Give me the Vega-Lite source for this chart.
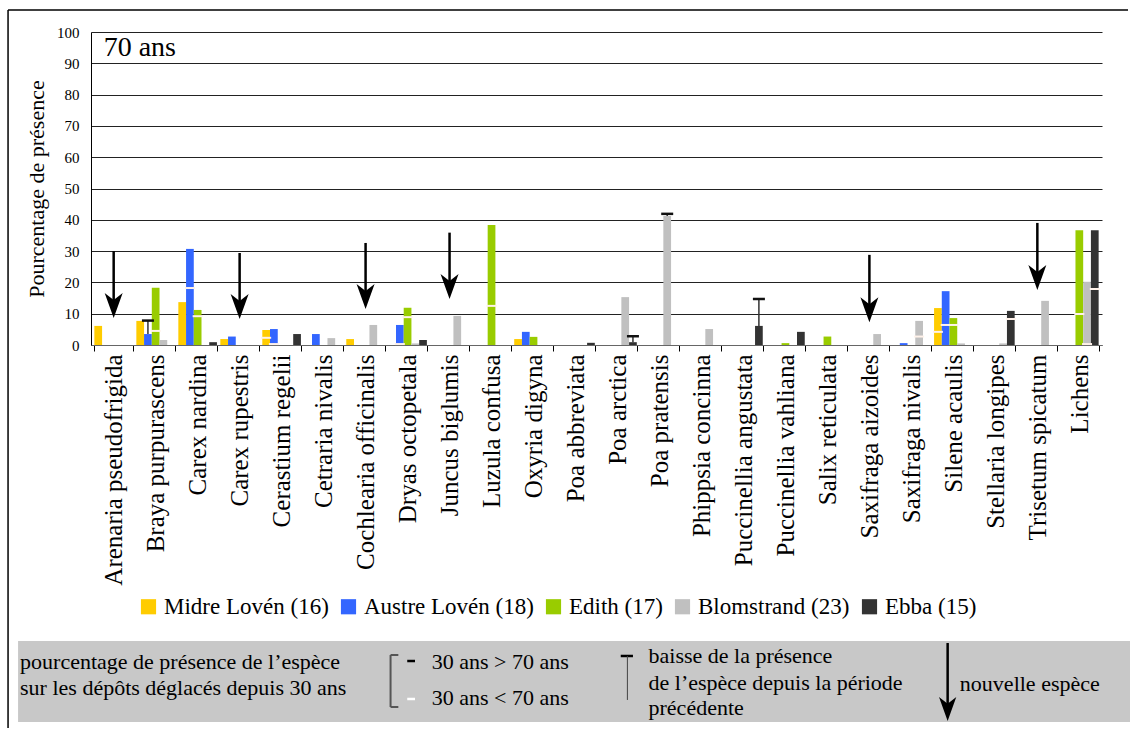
{
  "$schema": "https://vega.github.io/schema/vega-lite/v6.json",
  "padding": {"left": 7, "top": 9, "right": 0, "bottom": 0},
  "background": "white",
  "columns": 1,
  "bounds": "flush",
  "spacing": 296,
  "config": {
    "font": "Liberation Serif",
    "view": {"stroke": null},
    "axisY": {
      "grid": true,
      "gridColor": "#222",
      "gridWidth": 1,
      "ticks": false,
      "domain": true,
      "domainColor": "#000",
      "labelFont": "Liberation Serif",
      "labelFontSize": 15,
      "labelColor": "#000",
      "labelPadding": 12,
      "labelOverlap": false,
      "titleFont": "Liberation Serif",
      "titleFontSize": 22,
      "titleFontWeight": "normal",
      "titleColor": "#000",
      "titlePadding": 8
    }
  },
  "datasets": {
    "bars": [
      {"species": "Arenaria pseudofrigida", "site": "Midre Lovén (16)", "value": 6.1},
      {"species": "Braya purpurascens", "site": "Midre Lovén (16)", "value": 7.7},
      {"species": "Braya purpurascens", "site": "Austre Lovén (18)", "value": 3.5},
      {"species": "Braya purpurascens", "site": "Edith (17)", "value": 18.3},
      {"species": "Braya purpurascens", "site": "Blomstrand (23)", "value": 1.6},
      {"species": "Carex nardina", "site": "Midre Lovén (16)", "value": 13.7},
      {"species": "Carex nardina", "site": "Austre Lovén (18)", "value": 30.7},
      {"species": "Carex nardina", "site": "Edith (17)", "value": 11.2},
      {"species": "Carex nardina", "site": "Ebba (15)", "value": 0.9},
      {"species": "Carex rupestris", "site": "Midre Lovén (16)", "value": 1.9},
      {"species": "Carex rupestris", "site": "Austre Lovén (18)", "value": 2.7},
      {"species": "Cerastium regelii", "site": "Midre Lovén (16)", "value": 4.8},
      {"species": "Cerastium regelii", "site": "Austre Lovén (18)", "value": 5.1},
      {"species": "Cerastium regelii", "site": "Ebba (15)", "value": 3.5},
      {"species": "Cetraria nivalis", "site": "Austre Lovén (18)", "value": 3.5},
      {"species": "Cetraria nivalis", "site": "Blomstrand (23)", "value": 2.2},
      {"species": "Cochlearia officinalis", "site": "Midre Lovén (16)", "value": 1.9},
      {"species": "Cochlearia officinalis", "site": "Blomstrand (23)", "value": 6.4},
      {"species": "Dryas octopetala", "site": "Austre Lovén (18)", "value": 6.4},
      {"species": "Dryas octopetala", "site": "Edith (17)", "value": 11.9},
      {"species": "Dryas octopetala", "site": "Blomstrand (23)", "value": 0.5},
      {"species": "Dryas octopetala", "site": "Ebba (15)", "value": 1.6},
      {"species": "Juncus biglumis", "site": "Blomstrand (23)", "value": 9.3},
      {"species": "Luzula confusa", "site": "Edith (17)", "value": 38.3},
      {"species": "Oxyria digyna", "site": "Midre Lovén (16)", "value": 1.9},
      {"species": "Oxyria digyna", "site": "Austre Lovén (18)", "value": 4.2},
      {"species": "Oxyria digyna", "site": "Edith (17)", "value": 2.6},
      {"species": "Poa abbreviata", "site": "Ebba (15)", "value": 0.7},
      {"species": "Poa arctica", "site": "Blomstrand (23)", "value": 15.3},
      {"species": "Poa arctica", "site": "Ebba (15)", "value": 0.9},
      {"species": "Poa pratensis", "site": "Blomstrand (23)", "value": 41.2},
      {"species": "Phippsia concinna", "site": "Blomstrand (23)", "value": 5.1},
      {"species": "Puccinellia angustata", "site": "Ebba (15)", "value": 6.1},
      {"species": "Puccinellia vahliana", "site": "Edith (17)", "value": 0.6},
      {"species": "Puccinellia vahliana", "site": "Ebba (15)", "value": 4.2},
      {"species": "Salix reticulata", "site": "Edith (17)", "value": 2.7},
      {"species": "Saxifraga aizoides", "site": "Blomstrand (23)", "value": 3.5},
      {"species": "Saxifraga nivalis", "site": "Austre Lovén (18)", "value": 0.6},
      {"species": "Saxifraga nivalis", "site": "Blomstrand (23)", "value": 7.7},
      {"species": "Silene acaulis", "site": "Midre Lovén (16)", "value": 11.8},
      {"species": "Silene acaulis", "site": "Austre Lovén (18)", "value": 17.2},
      {"species": "Silene acaulis", "site": "Edith (17)", "value": 8.6},
      {"species": "Silene acaulis", "site": "Blomstrand (23)", "value": 0.5},
      {"species": "Stellaria longipes", "site": "Blomstrand (23)", "value": 0.5},
      {"species": "Stellaria longipes", "site": "Ebba (15)", "value": 10.9},
      {"species": "Trisetum spicatum", "site": "Blomstrand (23)", "value": 14.1},
      {"species": "Lichens", "site": "Edith (17)", "value": 36.7},
      {"species": "Lichens", "site": "Blomstrand (23)", "value": 20.2},
      {"species": "Lichens", "site": "Ebba (15)", "value": 36.7}
    ],
    "marks30": [
      {"species": "Braya purpurascens", "site": "Edith (17)", "value": 4.5},
      {"species": "Carex nardina", "site": "Austre Lovén (18)", "value": 18.2},
      {"species": "Carex nardina", "site": "Edith (17)", "value": 9.2},
      {"species": "Cerastium regelii", "site": "Midre Lovén (16)", "value": 2.3},
      {"species": "Cerastium regelii", "site": "Austre Lovén (18)", "value": 0.3},
      {"species": "Dryas octopetala", "site": "Austre Lovén (18)", "value": 0.3},
      {"species": "Dryas octopetala", "site": "Edith (17)", "value": 8.9},
      {"species": "Luzula confusa", "site": "Edith (17)", "value": 12.5},
      {"species": "Saxifraga nivalis", "site": "Blomstrand (23)", "value": 2.7},
      {"species": "Silene acaulis", "site": "Midre Lovén (16)", "value": 4.2},
      {"species": "Silene acaulis", "site": "Austre Lovén (18)", "value": 6.4},
      {"species": "Silene acaulis", "site": "Edith (17)", "value": 6.4},
      {"species": "Stellaria longipes", "site": "Ebba (15)", "value": 8.3},
      {"species": "Lichens", "site": "Edith (17)", "value": 9.9},
      {"species": "Lichens", "site": "Blomstrand (23)", "value": 0.3},
      {"species": "Lichens", "site": "Ebba (15)", "value": 17.9}
    ],
    "baisse": [
      {"species": "Braya purpurascens", "site": "Austre Lovén (18)", "value": 3.5, "prev": 7.8},
      {"species": "Poa arctica", "site": "Ebba (15)", "value": 0.9, "prev": 2.8},
      {"species": "Poa pratensis", "site": "Blomstrand (23)", "value": 41.2, "prev": 41.9},
      {"species": "Puccinellia angustata", "site": "Ebba (15)", "value": 6.1, "prev": 14.7}
    ],
    "arrows": [
      {"species": "Arenaria pseudofrigida", "top": 30, "stemEnd": 11.6, "tip": 8.6},
      {"species": "Carex rupestris", "top": 29.4, "stemEnd": 11.3, "tip": 8.3},
      {"species": "Cochlearia officinalis", "top": 32.6, "stemEnd": 14.5, "tip": 11.5},
      {"species": "Juncus biglumis", "top": 35.9, "stemEnd": 17.7, "tip": 14.7},
      {"species": "Saxifraga aizoides", "top": 28.8, "stemEnd": 10.3, "tip": 7.3},
      {"species": "Trisetum spicatum", "top": 39, "stemEnd": 20.6, "tip": 17.6}
    ],
    "heading": [{"label": "70 ans"}],
    "box": [{"x": 0, "x2": 100, "y": 0, "y2": 100}],
    "frame": [
      {"x": -0.9, "x2": 99.82, "y": -779, "y2": -779},
      {"x": -0.9, "x2": -0.9, "y": -779, "y2": 107.4}
    ],
    "notes": [
      {"x": 0.18, "y": 34.6, "text": "pourcentage de présence de l’espèce"},
      {"x": 0.18, "y": 66.7, "text": "sur les dépôts déglacés depuis 30 ans"},
      {"x": 37.2, "y": 34.6, "text": "30 ans > 70 ans"},
      {"x": 37.2, "y": 79.0, "text": "30 ans < 70 ans"},
      {"x": 56.7, "y": 27.2, "text": "baisse de la présence"},
      {"x": 56.7, "y": 60.5, "text": "de l’espèce depuis la période"},
      {"x": 56.7, "y": 91.4, "text": "précédente"},
      {"x": 84.7, "y": 61.7, "text": "nouvelle espèce"}
    ],
    "segs": [
      {"item": "bracket", "x": 33.5, "x2": 33.5, "y": 17.3, "y2": 81.5},
      {"item": "bracket", "x": 33.5, "x2": 34.2, "y": 17.3, "y2": 17.3},
      {"item": "bracket", "x": 33.5, "x2": 34.2, "y": 81.5, "y2": 81.5},
      {"item": "blackdash", "x": 35.0, "x2": 35.7, "y": 24.7, "y2": 24.7},
      {"item": "whitedash", "x": 35.0, "x2": 35.7, "y": 71.6, "y2": 71.6},
      {"item": "tcap", "x": 54.2, "x2": 55.3, "y": 18.5, "y2": 18.5},
      {"item": "tline", "x": 54.8, "x2": 54.8, "y": 18.5, "y2": 72.8},
      {"item": "arrow", "x": 83.6, "x2": 83.6, "y": 2.5, "y2": 88.0}
    ],
    "arrowhead": [{"x": 83.6, "y": 98.8}]
  },
  "concat": [
    {
      "width": 1011,
      "height": 313,
      "encoding": {
        "x": {
          "field": "species",
          "type": "nominal",
          "sort": ["Arenaria pseudofrigida","Braya purpurascens","Carex nardina","Carex rupestris","Cerastium regelii","Cetraria nivalis","Cochlearia officinalis","Dryas octopetala","Juncus biglumis","Luzula confusa","Oxyria digyna","Poa abbreviata","Poa arctica","Poa pratensis","Phippsia concinna","Puccinellia angustata","Puccinellia vahliana","Salix reticulata","Saxifraga aizoides","Saxifraga nivalis","Silene acaulis","Stellaria longipes","Trisetum spicatum","Lichens"],
          "scale": {"paddingInner": 0.08, "paddingOuter": 0.08},
          "axis": {
            "title": null,
            "labelAngle": -90,
            "labelFont": "Liberation Serif",
            "labelFontSize": 25,
            "labelColor": "#000",
            "labelPadding": 3,
            "labelLimit": 400,
            "tickBand": "extent",
            "ticks": true,
            "tickSize": 6,
            "tickColor": "#000",
            "domainColor": "#666",
            "grid": false
          }
        }
      },
      "layer": [
        {
          "data": {"name": "bars"},
          "mark": {"type": "bar"},
          "encoding": {
            "xOffset": {"field": "site", "type": "nominal", "scale": {"domain": ["Midre Lovén (16)","Austre Lovén (18)","Edith (17)","Blomstrand (23)","Ebba (15)"], "paddingInner": 0, "paddingOuter": 0}},
            "y": {
              "field": "value",
              "type": "quantitative",
              "title": "Pourcentage de présence",
              "scale": {"domain": [0, 100], "nice": false},
              "axis": {"values": [0,10,20,30,40,50,60,70,80,90,100], "labelOverlap": false, "labelFontSize": 15, "titleFontSize": 22}
            },
            "color": {
              "field": "site",
              "type": "nominal",
              "scale": {"domain": ["Midre Lovén (16)","Austre Lovén (18)","Edith (17)","Blomstrand (23)","Ebba (15)"], "range": ["#FFCC00","#3366FF","#99CC00","#C0C0C0","#333333"]},
              "legend": {
                "title": null,
                "orient": "none",
                "legendX": 46,
                "legendY": 563,
                "direction": "horizontal",
                "symbolType": "square",
                "symbolSize": 230,
                "symbolStrokeWidth": 0,
                "labelFont": "Liberation Serif",
                "labelFontSize": 23,
                "labelColor": "#000",
                "labelLimit": 400,
                "labelOffset": 4,
                "columnPadding": 8
              }
            }
          }
        },
        {
          "data": {"name": "marks30"},
          "mark": {"type": "tick", "color": "#FFF2EA", "thickness": 2, "size": 10, "opacity": 1},
          "encoding": {
            "xOffset": {"field": "site", "type": "nominal"},
            "y": {"field": "value", "type": "quantitative", "title": "Pourcentage de présence", "axis": {"values": [0,10,20,30,40,50,60,70,80,90,100], "labelOverlap": false, "labelFontSize": 15, "titleFontSize": 22}}
          }
        },
        {
          "data": {"name": "baisse"},
          "mark": {"type": "rule", "color": "#333", "strokeWidth": 1.5},
          "encoding": {
            "xOffset": {"field": "site", "type": "nominal"},
            "y": {"field": "prev", "type": "quantitative", "title": "Pourcentage de présence", "axis": {"values": [0,10,20,30,40,50,60,70,80,90,100], "labelOverlap": false, "labelFontSize": 15, "titleFontSize": 22}},
            "y2": {"field": "value"}
          }
        },
        {
          "data": {"name": "baisse"},
          "mark": {"type": "tick", "color": "#111", "thickness": 2.5, "size": 12, "opacity": 1},
          "encoding": {
            "xOffset": {"field": "site", "type": "nominal"},
            "y": {"field": "prev", "type": "quantitative", "title": "Pourcentage de présence", "axis": {"values": [0,10,20,30,40,50,60,70,80,90,100], "labelOverlap": false, "labelFontSize": 15, "titleFontSize": 22}}
          }
        },
        {
          "data": {"name": "arrows"},
          "mark": {"type": "rule", "color": "#000", "strokeWidth": 2.5},
          "encoding": {
            "y": {"field": "top", "type": "quantitative", "title": "Pourcentage de présence", "axis": {"values": [0,10,20,30,40,50,60,70,80,90,100], "labelOverlap": false, "labelFontSize": 15, "titleFontSize": 22}},
            "y2": {"field": "stemEnd"}
          }
        },
        {
          "data": {"name": "arrows"},
          "mark": {"type": "point", "shape": "M0,0L-0.36,-1L0,-0.72L0.36,-1Z", "size": 2500, "filled": true, "color": "#000", "opacity": 1, "strokeWidth": 0},
          "encoding": {
            "y": {"field": "tip", "type": "quantitative", "title": "Pourcentage de présence", "axis": {"values": [0,10,20,30,40,50,60,70,80,90,100], "labelOverlap": false, "labelFontSize": 15, "titleFontSize": 22}}
          }
        },
        {
          "data": {"name": "heading"},
          "mark": {"type": "text", "align": "left", "baseline": "alphabetic", "dx": -10, "dy": 24, "fontSize": 28, "font": "Liberation Serif", "color": "#000"},
          "encoding": {
            "x": {"datum": "Arenaria pseudofrigida"},
            "y": {"datum": 100, "type": "quantitative", "title": "Pourcentage de présence", "axis": {"values": [0,10,20,30,40,50,60,70,80,90,100], "labelOverlap": false, "labelFontSize": 15, "titleFontSize": 22}},
            "text": {"field": "label"}
          }
        }
      ]
    },
    {
      "width": 1039,
      "height": 81,
      "layer": [
        {
          "data": {"name": "box"},
          "mark": {"type": "rect", "color": "#C8C8C8", "opacity": 1, "clip": false},
          "encoding": {
            "x": {"field": "x", "type": "quantitative", "scale": {"domain": [6.56, 100], "nice": false, "zero": false}, "axis": null},
            "x2": {"field": "x2"},
            "y": {"field": "y", "type": "quantitative", "scale": {"domain": [0, 100], "nice": false, "zero": false, "reverse": true}, "axis": null},
            "y2": {"field": "y2"}
          }
        },
        {
          "data": {"name": "frame"},
          "mark": {"type": "rule", "color": "#000", "strokeWidth": 1.5, "clip": false},
          "encoding": {
            "x": {"field": "x", "type": "quantitative", "axis": null},
            "x2": {"field": "x2"},
            "y": {"field": "y", "type": "quantitative", "axis": null},
            "y2": {"field": "y2"}
          }
        },
        {
          "data": {"name": "segs"},
          "transform": [{"filter": "datum.item == 'bracket'"}],
          "mark": {"type": "rule", "color": "#555", "strokeWidth": 2},
          "encoding": {
            "x": {"field": "x", "type": "quantitative", "axis": null},
            "x2": {"field": "x2"},
            "y": {"field": "y", "type": "quantitative", "axis": null},
            "y2": {"field": "y2"}
          }
        },
        {
          "data": {"name": "segs"},
          "transform": [{"filter": "datum.item == 'blackdash' || datum.item == 'tcap' || datum.item == 'arrow'"}],
          "mark": {"type": "rule", "color": "#000", "strokeWidth": 2.5},
          "encoding": {
            "x": {"field": "x", "type": "quantitative", "axis": null},
            "x2": {"field": "x2"},
            "y": {"field": "y", "type": "quantitative", "axis": null},
            "y2": {"field": "y2"}
          }
        },
        {
          "data": {"name": "segs"},
          "transform": [{"filter": "datum.item == 'whitedash'"}],
          "mark": {"type": "rule", "color": "#FFFFFF", "strokeWidth": 2.5},
          "encoding": {
            "x": {"field": "x", "type": "quantitative", "axis": null},
            "x2": {"field": "x2"},
            "y": {"field": "y", "type": "quantitative", "axis": null},
            "y2": {"field": "y2"}
          }
        },
        {
          "data": {"name": "segs"},
          "transform": [{"filter": "datum.item == 'tline'"}],
          "mark": {"type": "rule", "color": "#444", "strokeWidth": 1},
          "encoding": {
            "x": {"field": "x", "type": "quantitative", "axis": null},
            "x2": {"field": "x2"},
            "y": {"field": "y", "type": "quantitative", "axis": null},
            "y2": {"field": "y2"}
          }
        },
        {
          "data": {"name": "arrowhead"},
          "mark": {"type": "point", "shape": "M0,0L-0.36,-1L0,-0.72L0.36,-1Z", "size": 2304, "filled": true, "color": "#000", "opacity": 1, "strokeWidth": 0},
          "encoding": {
            "x": {"field": "x", "type": "quantitative", "axis": null},
            "y": {"field": "y", "type": "quantitative", "axis": null}
          }
        },
        {
          "data": {"name": "notes"},
          "mark": {"type": "text", "align": "left", "baseline": "alphabetic", "fontSize": 22, "font": "Liberation Serif", "color": "#000"},
          "encoding": {
            "x": {"field": "x", "type": "quantitative", "axis": null},
            "y": {"field": "y", "type": "quantitative", "axis": null},
            "text": {"field": "text"}
          }
        }
      ]
    }
  ]
}
